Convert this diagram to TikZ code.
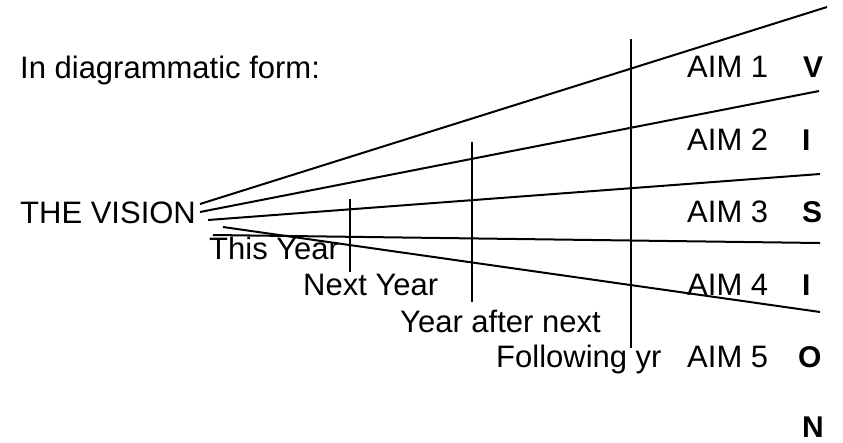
\documentclass[tikz,border=0pt]{standalone}
\usepackage{fontspec}
\setmainfont{Liberation Sans}
\begin{document}
\begin{tikzpicture}[x=1pt,y=-1pt,
  lbl/.style={anchor=base west,inner sep=0pt,font=\fontsize{31}{37}\selectfont},
  letter/.style={anchor=base west,inner sep=0pt,font=\fontsize{30}{36}\selectfont\bfseries},
  ray/.style={line width=2pt},
  tick/.style={line width=2pt}]
\useasboundingbox (0,0) rectangle (843,442);
% texts
\node[lbl] (intro) at (20,78) {In diagrammatic form:};
\node[lbl] (vision) at (20,223) {THE VISION};
\node[lbl] (y1) at (209,259) {This Year};
\node[lbl] (y2) at (303,295) {Next Year};
\node[lbl] (y3) at (400,332) {Year after next};
\node[lbl] (y4) at (496,367) {Following yr};
\node[lbl] (a1) at (687,77) {AIM 1};
\node[lbl] (a2) at (687,150) {AIM 2};
\node[lbl] (a3) at (687,222) {AIM 3};
\node[lbl] (a4) at (687,295) {AIM 4};
\node[lbl] (a5) at (687,367) {AIM 5};
\node[letter] (lV) at (803,77) {V};
\node[letter] (lI1) at (802,150) {I};
\node[letter] (lS) at (802,222) {S};
\node[letter] (lI2) at (802,295) {I};
\node[letter] (lO) at (798,367) {O};
\node[letter] (lN) at (802,437) {N};
% ray coordinates
\coordinate (s1) at (200,204); \coordinate (e1) at (827,7);
\coordinate (s2) at (200,212); \coordinate (e2) at (819,91);
\coordinate (s3) at (208,220); \coordinate (e3) at (820,174);
\coordinate (s4) at (213,235); \coordinate (e4) at (820,243);
\coordinate (s5) at (223,227); \coordinate (e5) at (820,312);
\draw[ray] (s1) -- (e1);
\draw[ray] (s2) -- (e2);
\draw[ray] (s3) -- (e3);
\draw[ray] (s4) -- (e4);
\draw[ray] (s5) -- (e5);
% year ticks
\coordinate (t1a) at (350,199); \coordinate (t1b) at (350,272);
\coordinate (t2a) at (472,142); \coordinate (t2b) at (472,302);
\coordinate (t3a) at (631,39); \coordinate (t3b) at (631,348);
\draw[tick] (t1a) -- (t1b);
\draw[tick] (t2a) -- (t2b);
\draw[tick] (t3a) -- (t3b);
\end{tikzpicture}
\end{document}
